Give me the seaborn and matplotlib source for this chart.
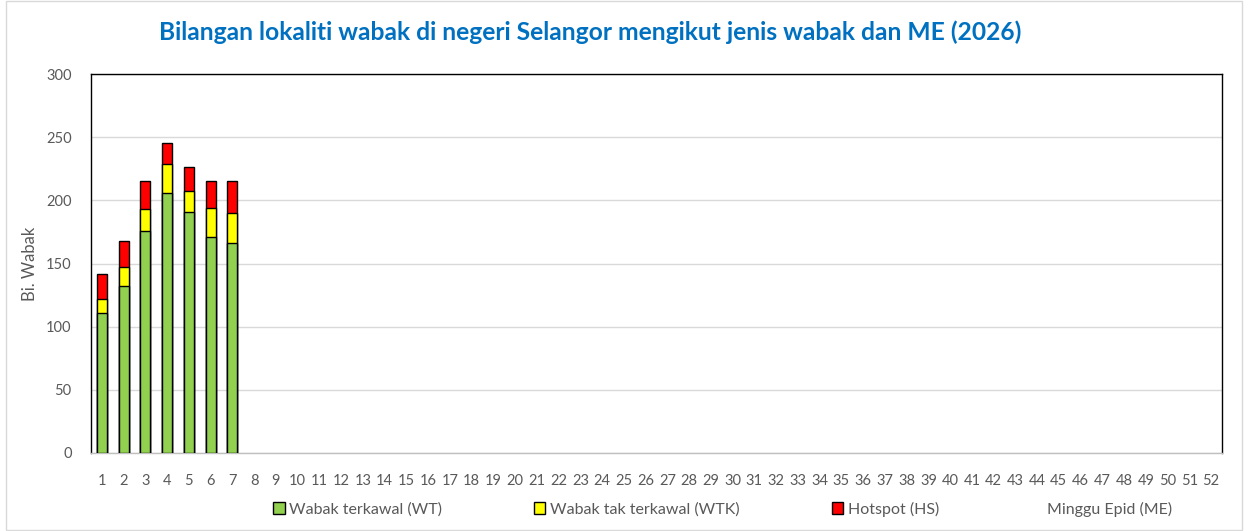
import numpy as np
import pandas as pd
import seaborn as sns
import matplotlib.pyplot as plt
from matplotlib.patches import Patch, Rectangle

# Data (Minggu Epid 1..52, only first 7 reported)
minggu = [str(i) for i in range(1, 53)]
wt = [111, 132, 176, 206, 191, 171, 166]    # Wabak terkawal
wtk = [11, 15, 17, 23, 16, 23, 24]          # Wabak tak terkawal
hs = [20, 21, 22, 16, 19, 21, 25]           # Hotspot

n = len(wt)
df = pd.DataFrame({
    "ME": minggu[:n],
    "WT": wt,
    "WTK": wtk,
    "HS": hs,
})
df["WT_WTK"] = df["WT"] + df["WTK"]
df["JUMLAH"] = df["WT_WTK"] + df["HS"]

sns.set_style("white")
plt.rcParams["font.family"] = ["Lato", "DejaVu Sans"]

fig, ax = plt.subplots(figsize=(12.48, 5.31), dpi=100)
fig.subplots_adjust(left=91 / 1248, right=1222 / 1248, top=1 - 74 / 531, bottom=1 - 453 / 531)

c_green, c_yellow, c_red = "#92D050", "#FFFF00", "#FF0000"
kw = dict(x="ME", order=minggu, data=df, width=0.45, edgecolor="black", linewidth=1.0,
          saturation=1, ax=ax, zorder=3)
sns.barplot(y="JUMLAH", color=c_red, **kw)
sns.barplot(y="WT_WTK", color=c_yellow, **kw)
sns.barplot(y="WT", color=c_green, **kw)

ax.set_ylim(0, 300)
ax.set_xlim(-0.5, 51.5)
ax.set_yticks(range(0, 301, 50))
ax.yaxis.grid(True, color="#D9D9D9", linewidth=1, zorder=0)
ax.set_axisbelow(True)
for s in ax.spines.values():
    s.set_color("black")
    s.set_linewidth(1)
ax.spines["bottom"].set_color("#BFBFBF")
ax.tick_params(axis="both", length=0, labelsize=10.5, labelcolor="#595959")
ax.tick_params(axis="x", pad=15)
ax.tick_params(axis="y", pad=14)
ax.set_xlabel("")
ax.set_ylabel("Bi. Wabak", fontsize=12, color="#595959", labelpad=6)

fig.text(0.473, 0.94, "Bilangan lokaliti wabak di negeri Selangor mengikut jenis wabak dan ME (2026)",
         ha="center", va="center", fontsize=17.7, fontweight="bold", color="#0070C0")

handles = [
    Patch(facecolor=c_green, edgecolor="black", label="Wabak terkawal (WT)"),
    Patch(facecolor=c_yellow, edgecolor="black", label="Wabak tak terkawal (WTK)"),
    Patch(facecolor=c_red, edgecolor="black", label="Hotspot (HS)"),
    Patch(facecolor="none", edgecolor="none", label="Minggu Epid (ME)"),
]
fig.legend(handles=handles, loc="center", bbox_to_anchor=(0.579, 1 - 509 / 531), ncol=4,
           frameon=False, fontsize=11.5, labelcolor="#595959", handlelength=0.7, handleheight=0.7,
           handletextpad=0.3, columnspacing=5.75)

fig.patches.append(Rectangle((0.005, 0.002), 0.99, 0.996, transform=fig.transFigure,
                             fill=False, edgecolor="#D9D9D9", linewidth=1))

plt.savefig("out.png", dpi=100)
